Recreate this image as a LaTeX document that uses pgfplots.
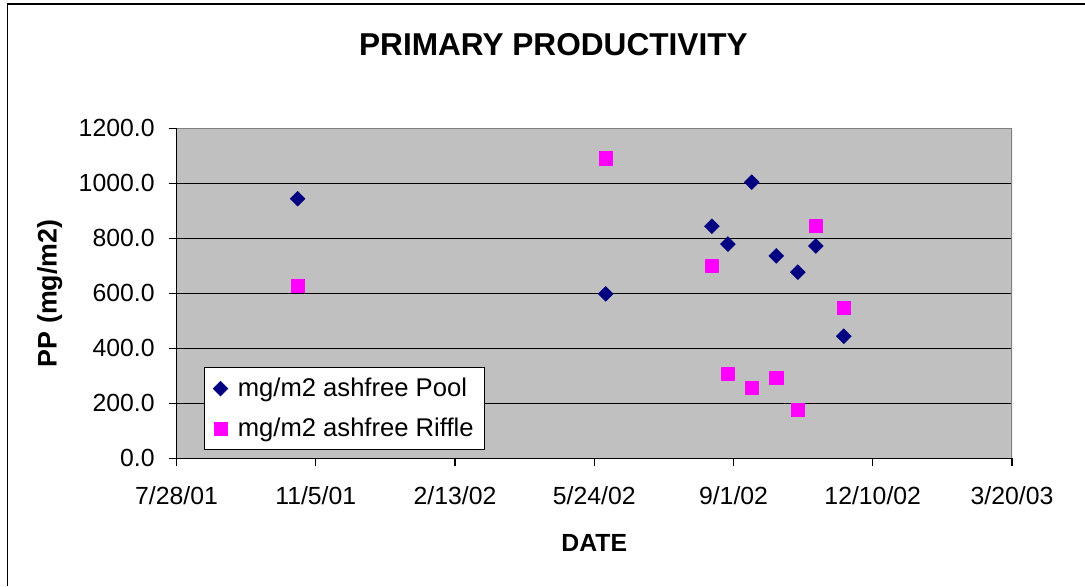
\documentclass[border=0pt]{standalone}
\usepackage{pgfplots}
\pgfplotsset{compat=1.18}
\usepackage{fontspec}
\setmainfont{Liberation Sans}
\definecolor{plotgray}{RGB}{192,192,192}
\definecolor{bordergray}{RGB}{128,128,128}
\definecolor{navyblue}{RGB}{0,0,128}
\definecolor{magentapink}{RGB}{255,0,255}
\begin{document}
\begin{tikzpicture}
\path[use as bounding box] (0pt,0pt) rectangle (542.5pt,-293pt);
\draw[line width=0.6pt] (3.7pt,-293pt) -- (3.7pt,-2pt) -- (542.5pt,-2pt);
\node[anchor=base, font=\fontsize{15.8}{18}\selectfont\bfseries] at (276.7pt,-27.85pt) {PRIMARY PRODUCTIVITY};
\begin{axis}[
  at={(88.25pt,-229.15pt)}, anchor=south west,
  width=417.75pt, height=165pt, scale only axis,
  xmin=0, xmax=600, ymin=0, ymax=1200,
  axis lines=left,
  axis line style={-, black, line width=0.7pt},
  axis background/.style={fill=plotgray},
  xtick={0,100,...,600},
  xticklabels={7/28/01,11/5/01,2/13/02,5/24/02,9/1/02,12/10/02,3/20/03},
  ytick={0,200,...,1200},
  tick align=outside, major tick length=4pt,
  tick style={black, line width=0.6pt},
  ymajorgrids, grid style={black, line width=0.5pt},
  /pgf/number format/assume math mode=true,
  /pgf/number format/fixed,
  /pgf/number format/fixed zerofill,
  /pgf/number format/precision=1,
  /pgf/number format/1000 sep={},
  tick label style={font=\fontsize{12.4}{14}\selectfont, inner sep=0pt},
  xticklabel style={anchor=base, yshift=-19pt},
  yticklabel style={anchor=east, xshift=-6.75pt},
  xlabel={DATE}, ylabel={PP (mg/m2)},
  label style={inner sep=0pt},
  xlabel style={font=\fontsize{12.4}{14}\selectfont\bfseries, at={(axis description cs:0.5,0)}, anchor=base, yshift=-46.35pt},
  ylabel style={font=\fontsize{13.4}{15}\selectfont\bfseries, at={([xshift=-59.95pt]axis description cs:0,0.5)}, anchor=base},
  legend cell align=left,
  legend image code/.code={\draw[#1] plot coordinates {(0pt,0pt)};},
  legend style={at={(rel axis cs:0.0329,0.0252)}, anchor=south west,
    draw=black, line width=0.5pt, fill=white,
    inner xsep=4.35pt, inner ysep=4.15pt, row sep=7.15pt, column sep=4pt,
    font=\fontsize{12.8}{14}\selectfont, nodes={inner sep=1pt}},
]
\addplot[only marks, mark=square*, mark size=2.6pt,
  mark options={rotate=45, fill=navyblue, draw=navyblue, line width=0.3pt}]
  coordinates {
  (87.0,944) (308.2,598) (384.5,844) (396.0,779) (413.1,1004)
  (430.7,736) (446.2,677) (459.1,772) (479.2,444)
  };
\addlegendentry{mg/m2 ashfree Pool}
\addplot[only marks, mark=square*, mark size=3.3pt,
  mark options={fill=magentapink, draw=magentapink, line width=0.3pt}]
  coordinates {
  (87.0,627) (308.2,1091) (384.5,699) (396.0,307) (413.1,256)
  (430.7,292) (446.2,176) (459.1,845) (479.2,547)
  };
\addlegendentry{mg/m2 ashfree Riffle}
\draw[bordergray, line width=1pt] (rel axis cs:0,1) -- (rel axis cs:1,1) -- (rel axis cs:1,0);
\end{axis}
\end{tikzpicture}
\end{document}
